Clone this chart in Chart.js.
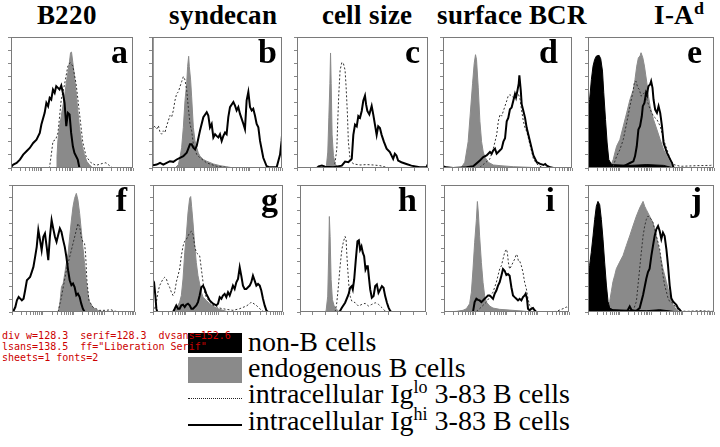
<!DOCTYPE html>
<html>
<head>
<meta charset="utf-8">
<script src="https://cdn.jsdelivr.net/npm/chart.js@4"></script>
<style>
@font-face { font-family:'LSerif'; font-weight:normal; src: local('Liberation Serif'), local('LiberationSerif'); }
@font-face { font-family:'LSerif'; font-weight:bold; src: local('Liberation Serif Bold'), local('LiberationSerif-Bold'); }
body { margin:0; background:#fff; }
canvas { position:absolute; }
.title { position:absolute; top:2px; width:200px; text-align:center; font-weight:bold; font-size:27px; line-height:27px; white-space:nowrap; font-family:'LSerif','Liberation Serif',serif; }
.letter { position:absolute; font-weight:bold; font-size:34px; line-height:34px; font-family:'Liberation Serif'; }
.leg { position:absolute; left:248px; font-size:28px; line-height:28px; white-space:nowrap; font-family:'Liberation Serif'; }
.box { position:absolute; left:188px; width:54px; }
.sp { font-size:18px; position:relative; top:-10px; }
#dbg { position:absolute; left:2px; top:330px; font:10px 'DejaVu Sans Mono'; white-space:pre; color:#c00; }
</style>
</head>
<body>
<div class="title" style="left:-33px">B220</div>
<div class="title" style="left:123px">syndecan</div>
<div class="title" style="left:267px">cell size</div>
<div class="title" style="left:412px">surface BCR</div>
<div class="title" style="left:579px">I-A<span class="sp">d</span></div>

<div class="box" style="top:333px;height:20px;background:#000"></div>
<div class="box" style="top:357px;height:26px;background:#8a8a8a"></div>
<div class="box" style="top:398px;height:0;border-top:1.5px dotted #222"></div>
<div class="box" style="top:424px;height:2px;background:#000"></div>
<div class="leg" id="leg1" style="top:328px">non-B cells</div>
<div class="leg" style="top:354px">endogenous B cells</div>
<div class="leg" style="top:380px">intracellular Ig<span class="sp">lo</span> 3-83 B cells</div>
<div class="leg" style="top:407px">intracellular Ig<span class="sp">hi</span> 3-83 B cells</div>
<div id="dbg"></div>

<script>
// [x % of axis, y % of axis]
var aSolid = [[0,0],[0.5,1.3],[1.9,2.6],[4.6,3.8],[7.3,6.4],[10,10.2],[12.7,12.8],[15.4,15.3],[18.2,19.1],[20.9,21.7],[23.6,26.8],[24.9,33.2],[27.6,42.1],[29,49.7],[30.4,47.2],[31.7,53.6],[33,52.3],[34.4,59.9],[35.8,57.4],[37.1,62.5],[38.5,61.2],[39.8,59.9],[41.2,63],[42.5,57.4],[43.9,49.7],[45.3,31.9],[46.6,42.1],[48,40.8],[49.3,26.8],[50.7,16.6],[52,11.5],[54.7,6.4],[56.1,0]];
var aGray = [[37.1,0],[37.7,8.9],[38.5,21.7],[39.8,31.9],[41.2,39.5],[42.5,47.2],[43.9,54.8],[45.3,65],[46.6,72.7],[48,81.6],[48.8,88],[49.6,88.5],[50.7,80.4],[52,70.2],[53.4,57.4],[54.7,44.6],[56.1,31.9],[57.5,21.7],[58.8,15.3],[60.2,10.2],[62.1,5.1],[64.2,2.6],[66.9,0]];
var aDotted = [[30.4,0],[31.7,1.3],[33,10],[34.4,20.4],[36.6,21.7],[38.5,26.8],[41.2,52.3],[43.9,63.8],[46.6,77.8],[48.5,80.4],[50.7,77.8],[53.4,64],[56.1,42],[58.8,20],[61.5,9],[65.6,4],[69.6,2],[75.1,3.5],[77.8,4],[80.5,2],[83.2,0]];

var bSolid = [[0,100],[0.3,2],[3.6,2.6],[6.2,3.9],[8.7,2.6],[11.3,3.9],[13.8,5.2],[16.4,4.7],[19,6.5],[21.5,7.8],[24.1,9],[26.7,11.6],[29.2,18.1],[30.5,18.1],[31.8,15.5],[33.1,14.2],[34.4,16.8],[36.9,28.4],[39.5,38.8],[42.1,42.6],[43.3,40.1],[44.6,31],[45.9,33.6],[47.2,23.3],[48.5,25.8],[49.7,24.5],[51,23.3],[52.3,25.8],[53.6,20.7],[54.9,24.5],[56.2,27.1],[57.4,25.8],[58.7,38.8],[60,46.5],[62.6,50.4],[63.8,47.8],[65.1,43.9],[66.4,46.5],[67.7,41.3],[69,37.5],[70.3,33.6],[71.5,29.7],[72.8,51.7],[74.1,58.1],[75.4,46.5],[76.7,43.9],[77.9,45.2],[79.2,40.1],[80.5,33.6],[81.8,31],[83.1,20.7],[85.6,7.8],[88.2,1.3],[90.8,0.5],[95.9,0.5],[98.5,10.3],[99.7,20.7],[100,25]];
var bGray = [[17.7,0],[20.3,2.6],[21.5,7.8],[22.8,15.5],[24.1,31],[25.4,51.7],[26.7,64.6],[27.4,77.5],[28.2,85.3],[28.7,77.5],[29.7,67.2],[30.5,54.3],[31.8,31],[33.1,20.7],[34.4,15.5],[35.6,11.6],[36.9,9],[39.5,6.5],[42.1,5.2],[47.2,3.1],[52.3,1.8],[60,0.5],[62.6,0]];
var bDotted = [[0,30],[1.5,32.3],[3.6,29.7],[4.9,32.3],[6.2,27.1],[7.4,25.8],[8.7,28.4],[10,27.1],[11.3,32.3],[12.6,36.2],[13.8,40.1],[15.1,38.8],[16.4,43.9],[17.7,51.7],[19,56.8],[20.3,58.1],[21.5,62],[22.8,65.9],[24.1,69.8],[25.4,67.2],[26.7,59.4],[27.9,46.5],[29.2,33.6],[30.5,28.4],[31.8,18.1],[34.4,10.3],[36.9,7.8],[42.1,3.9],[49.7,1.3],[62.6,0]];

var cSolid = [[13,0],[15.2,0],[16.5,1.3],[19,1.8],[21.5,1],[27.8,0.5],[34.2,1.8],[36.7,4.9],[39.2,4.4],[40.5,5.7],[41.8,7],[43,25.3],[44.3,33.1],[45.6,31.8],[46.8,39.6],[48.1,38.3],[49.4,43.5],[50.6,51.3],[51.9,55.2],[52.7,48.7],[53.7,43.5],[55.2,40.9],[57,47.4],[58.2,40.9],[59.5,33.1],[60.8,25.3],[62,31.8],[63.3,30.5],[64.6,25.3],[66.3,20.1],[68.4,14.8],[70.9,12.2],[73.4,7],[74.7,10.9],[75.9,9.6],[77.2,5.7],[79.7,4.4],[83.5,3.1],[87.3,1.8],[93.7,0.5],[98.7,0.5],[100,3.1]];
var cGray = [[22.3,0],[23.5,12.2],[24.3,38.3],[25.1,64.3],[25.6,87.8],[26.1,64.3],[26.8,25.3],[27.8,9.6],[29.1,3.1],[31.6,0.5],[33,0]];
var cDotted = [[28,0],[29.1,4.4],[30.4,14.8],[31.1,35.7],[31.9,56.5],[32.9,74.7],[34.2,80.5],[35.4,79.9],[36.7,74.7],[37.5,61.7],[38.5,40.9],[39.2,20.1],[40.5,7],[43,3.1],[48.1,2.3],[53.2,2.6],[58.2,2.3],[63.3,1.8],[68.4,0.5],[73.4,0]];

var dSolid = [[0,1.3],[2.6,0.5],[7.8,0],[18.2,0.5],[23.4,1.3],[28.6,5.7],[31.2,8.3],[33.8,9.6],[36.4,12.2],[37.7,10.9],[39,13.5],[40.3,14.8],[41.6,10.9],[44.2,13.5],[45.5,14.8],[46.8,20.1],[48.1,22.7],[49.4,35.7],[50.6,38.3],[51.9,44.8],[53.2,46.1],[54.5,51.3],[55.8,56.5],[56.6,53.9],[57.7,59.1],[58.7,64.3],[59.2,70.8],[60.3,59.1],[61,48.7],[62.3,43.5],[63.6,38.3],[64.9,30.5],[66.2,25.3],[67.5,20.1],[68.8,14.8],[70.1,9.6],[72.7,4.4],[75.3,3.1],[77.9,2.3],[79.2,3.1],[80.5,1.8],[83.1,0.5],[85.7,0]];
var dGray = [[12,0],[14.3,0.5],[16.9,4.4],[19.5,20.1],[21.3,43.5],[22.9,64.3],[24.2,79.9],[25.2,86.5],[26,82.6],[27.3,61.7],[28.6,35.7],[29.9,20.1],[31.2,12.2],[32.5,8.3],[35.1,4.4],[39,2.3],[44.2,1.8],[54.5,1],[67.5,0.5],[75.3,0]];
var dDotted = [[28.6,0.5],[36.4,7],[39,14.8],[41.6,25.3],[42.9,35.7],[44.2,40.9],[45.5,39.6],[46.8,43.5],[49.4,51.3],[50.6,55.2],[51.9,56],[54.5,53.9],[57.1,56.5],[58.4,56.5],[59.7,52.6],[61,43.5],[62.3,35.7],[63.6,30.5],[64.9,27.9],[66.2,22.7],[67.5,17.4],[68.8,12.2],[70.1,7],[72.7,3.1],[75.3,1.3],[77.9,0]];

var eBlack = [[0,42.1],[1.3,52.3],[2.7,67.6],[4,77.8],[5.3,82.9],[6.7,85.5],[8.8,86],[10.1,83.4],[11.5,74],[12.5,57.4],[13.9,37],[15.2,19.1],[16.5,6.4],[18.7,2.6],[33.3,2],[46.7,2.6],[60,2],[68,0]];
var eSolid = [[28,1.3],[30.7,2.6],[33.3,3.8],[36,5.1],[37.3,8.9],[38.7,16.6],[40,29.3],[41.3,31.9],[42.7,39.5],[43.5,47.2],[44.8,49.7],[46.1,57.4],[46.7,56.1],[48,62.5],[49.3,63.8],[50.1,66.3],[51.2,61.2],[52,52.3],[53.3,44.6],[54.7,42.1],[56,47.2],[57.3,42.1],[58.7,31.9],[60,19.1],[62.7,11.5],[65.3,6.4],[66.7,3.8],[68,0]];
var eGray = [[17.3,0],[20,6.4],[21.3,11.5],[22.7,16.6],[25.3,21.7],[28,31.9],[30.7,42.1],[33.3,52.3],[36,59.9],[37.3,67.6],[38.7,77.8],[40,84.2],[41.3,85.5],[42.1,88],[43.5,84.2],[44.8,77.8],[46.7,65],[48,54.8],[49.3,47.2],[52,37],[54.7,29.3],[57.3,21.7],[60,14],[62.7,8.9],[65.3,3.8],[68,0]];
var eDotted = [[20,1.3],[22.7,8.9],[25.3,14],[28,21.7],[30.7,34.4],[33.3,47.2],[35.5,57.4],[36.8,65],[38.1,66.3],[39.5,61.2],[40.8,59.9],[42.1,54.8],[43.5,56.1],[44.8,57.4],[46.7,52.3],[49.3,44.6],[52,39.5],[54.7,37],[57.3,31.9],[60,21.7],[62.7,14],[65.3,6.4],[68,2.6],[73.3,1.3],[86.7,1.8],[97.3,2],[100,2.6]];

var fSolid = [[0.8,0],[2.7,3.9],[4,9.2],[5.4,11.8],[6.7,10.5],[8,9.2],[9.4,10.5],[10.7,17.1],[12.1,25],[13.4,26.3],[14.7,27.6],[16.1,31.6],[17.4,35.5],[18.8,43.4],[20.1,51.3],[21.4,64.5],[22.8,56.6],[24.1,48.7],[25.5,59.2],[26.8,61.8],[28.2,51.3],[29.5,40.8],[30.8,59.2],[32.2,72.4],[33.5,65.8],[34.9,59.2],[36.2,55.3],[37.5,60.5],[38.9,65.8],[40.2,63.2],[41.6,56.6],[42.9,51.3],[44.2,43.4],[45.6,32.9],[46.9,25],[48.3,21.1],[49.6,22.4],[50.9,19.7],[52.3,13.2],[53.6,14.5],[55,11.8],[56.3,6.6],[57.6,2.6],[59,0]];
var fGray = [[37.5,0],[38.9,6.6],[40.2,19.7],[41.6,22.4],[42.9,30.3],[44.2,38.2],[45.6,46.1],[46.9,59.2],[48.3,72.4],[49.6,82.9],[50.9,89.5],[52.3,93.4],[53.6,88.2],[55,77.6],[56.3,64.5],[57.6,51.3],[59,38.2],[60.3,25],[61.7,14.5],[63,7.9],[65.7,3.9],[68.4,1.8],[71,0.8],[76.4,0]];
var fDotted = [[37.5,0],[40.2,11.8],[44.2,32.9],[46.9,43.4],[49.6,53.9],[52.3,64.5],[53.6,69.7],[55,67.1],[56.3,59.2],[57.6,55.3],[59,53.9],[59.8,46.1],[60.9,25],[62.5,9.2],[65.7,3.9],[71,1.3],[76.4,1.3],[80.4,1.8],[83.1,0.8],[87.1,0]];

var gSolid = [[0,24.7],[0.8,23.4],[1.8,13],[2.6,2.6],[3.3,0],[15.4,0],[16.7,2.6],[17.9,5.2],[19.2,2.6],[20.5,2.6],[21.8,5.2],[23.1,5.7],[24.4,3.9],[25.6,5.7],[26.9,6.5],[28.2,5.2],[29.5,2.6],[30.8,2.6],[33.3,5.2],[34.6,7.8],[35.9,13],[37.2,19.5],[38.5,20.8],[39.7,18.2],[41,14.3],[42.3,11.7],[43.6,9.1],[46.2,6.5],[48.7,5.2],[50,6.5],[51.3,11.7],[52.6,10.4],[53.8,13],[55.1,14.3],[56.4,11.7],[57.7,15.6],[59,13],[60.3,16.9],[61.5,20.8],[62.8,18.2],[64.1,23.4],[65.4,26],[66.7,35.1],[67.9,28.6],[69.2,20.8],[70.5,18.2],[71.8,18.2],[73.1,19.5],[74.4,20.8],[75.6,23.4],[76.9,28.6],[78.2,24.7],[79.5,20.8],[80.8,22.1],[82.1,20.8],[83.3,16.9],[84.6,10.4],[85.9,5.2],[87.2,1.3],[88.5,0]];
var gGray = [[15.4,0],[17.9,2.6],[20.5,7.8],[21.8,13],[23.1,26],[24.4,46.8],[25.6,59.7],[26.9,77.9],[28.2,89.6],[29,90.9],[29.7,83.1],[30.8,70.1],[32.1,51.9],[33.3,39],[34.6,28.6],[35.9,22.1],[37.2,15.6],[38.5,11.7],[41,9.1],[43.6,6.5],[46.2,4.7],[48.7,3.1],[51.3,2.1],[56.4,0.5],[61.5,0]];
var gDotted = [[1.3,2.6],[2.6,7.8],[3.8,15.6],[5.1,20.8],[6.4,23.4],[7.7,26],[9,27.3],[10.3,26],[11.5,22.1],[12.8,19.5],[14.1,15.6],[15.4,13],[16.7,15.6],[17.9,23.4],[19.2,28.6],[20.5,33.8],[21.8,44.2],[23.1,51.9],[24.4,55.8],[25.6,57.1],[26.9,59.7],[28.2,62.3],[29.5,63.6],[30.8,61],[32.1,51.9],[33.3,46.8],[34.6,45.5],[35.9,44.2],[37.2,33.8],[38.5,23.4],[39.7,15.6],[41,11.7],[43.6,7.8],[46.2,5.2],[51.3,3.1],[56.4,2.1],[61.5,1.3],[66.7,2.6],[71.8,4.7],[74.4,6.5],[75.6,7.8],[76.9,7],[79.5,5.2],[82.1,2.6],[84.6,0.5],[87.2,0]];

var hSolid = [[31.3,0],[33.2,3.4],[35.8,7.3],[38.5,13.8],[39.8,19.1],[41.1,20.4],[41.9,17.8],[43,25.6],[44.3,41.3],[45.6,55.6],[46.7,56.4],[47.7,49.1],[48.8,51.7],[49.9,46.5],[50.9,43.9],[52,33.4],[53.1,36],[53.8,36],[54.6,28.2],[55.7,17.8],[57,11.2],[58.4,12.5],[59.7,20.4],[61,21.7],[62.3,15.1],[63.7,17.8],[65,20.4],[66.3,19.1],[67.6,12.5],[69,7.3],[70.3,3.4],[71.6,0.8],[72.9,0]];
var hGray = [[19.5,0],[20.7,0.8],[22,12.5],[22.8,46.5],[23.3,75.2],[23.9,59.5],[24.7,25.6],[25.7,9.9],[27.1,4.7],[28.6,2.6],[30.5,0.8],[31.8,0]];
var hDotted = [[27.9,0],[29.2,7.3],[30.5,20.4],[31.8,36],[33.2,49.1],[34.5,55.6],[35.8,59.5],[36.6,56.9],[37.1,46.5],[37.9,33.4],[39,17.8],[39.8,12.5],[41.1,8.6],[43.8,7.3],[46.4,4.7],[49.1,6],[51.7,6.8],[54.4,4.7],[57,6],[59.7,7.3],[62.3,6],[65,3.4],[67.6,0.8],[70.3,0]];

var iSolid = [[23.2,0],[24.5,7.8],[25.9,10.4],[27.2,9.6],[28.5,9.1],[29.9,7.8],[31.2,9.1],[32.5,10.4],[33.9,11.7],[35.2,13],[36.5,13],[37.9,11.7],[39.2,10.4],[40.5,14.3],[41.9,16.9],[43.2,20.8],[44.5,23.4],[45.9,28.6],[47.2,33.8],[48.5,32.5],[49.9,29.1],[51.2,29.9],[52.5,28.6],[53.9,19.5],[55.2,13],[56.5,11.7],[57.9,10.4],[59.2,9.1],[60.5,10.4],[61.9,9.1],[63.2,11.7],[64.5,13],[65.3,14.3],[66.4,10.4],[67.2,2.6],[68.5,1.3],[69.9,2.6],[71.2,3.1],[72.5,1.3],[73.9,0]];
var iGray = [[0,0],[9.9,0.5],[15.2,1.3],[17.9,2.6],[20.5,6.5],[21.9,15.6],[23.2,33.8],[24.5,54.5],[25.9,72.7],[26.7,87],[27.5,77.9],[28.5,59.7],[29.9,39],[31.2,23.4],[32.5,13],[33.9,7.8],[36.5,4.7],[39.2,3.1],[44.5,2.1],[55.2,1.3],[65.9,0.5],[73.9,0]];
var iDotted = [[25.9,0.5],[28.5,2.6],[31.2,5.2],[33.9,7.8],[36.5,11.7],[39.2,15.6],[41.9,23.4],[43.2,28.6],[44.5,33.8],[45.9,36.4],[47.2,41.6],[48.5,46.8],[49.9,49.4],[50.7,46.8],[51.5,39],[52.5,33.8],[53.9,36.4],[55.2,39],[56.5,41.6],[57.9,45.5],[58.7,44.2],[59.5,40.3],[60.5,40.3],[61.9,36.4],[63.2,31.2],[64.5,23.4],[65.9,18.2],[67.2,10.4],[68.5,5.2],[71.2,2.6],[73.9,0.5],[81.9,0],[89.9,0.5],[95.2,2.6],[97.9,3.9],[100,3.1]];

var jBlack = [[0,30.2],[1.3,36.7],[2.6,47],[4,59.9],[5.3,72.9],[6.6,83.2],[7.9,87.1],[9.3,84.5],[10.6,72.9],[11.9,57.4],[13.2,39.3],[14.6,21.2],[15.9,8.3],[17.2,3.1],[19.8,1.8],[33.1,1.3],[46.3,1],[56.9,1.8],[67.5,0.5],[72.8,0]];
var jSolid = [[30.4,0],[31.7,1.8],[33.1,4.4],[34.4,1.8],[35.7,1],[38.4,1],[41,3.1],[43.7,13.4],[46.3,26.4],[47.6,31.5],[48.9,34.1],[50.3,44.4],[51.6,52.2],[52.9,59.9],[54.2,65.1],[55.6,67.7],[56.9,63.8],[58.2,57.4],[59.5,62.5],[60.8,59.9],[62.2,49.6],[63.5,36.7],[64.8,21.2],[66.1,10.9],[67.5,8.3],[68.8,7],[70.1,5.7],[71.4,3.1],[72.8,1.8],[74.1,0]];
var jGray = [[15.9,0],[17.2,8.3],[18.5,16],[19.8,23.8],[21.2,28.9],[22.5,34.1],[25.1,39.3],[27.8,44.4],[30.4,52.2],[33.1,59.9],[35.7,67.7],[38.4,75.5],[41,81.9],[42.3,84.5],[43.7,87.1],[45,83.2],[46.3,80.6],[48.9,75.5],[51.6,70.3],[54.2,59.9],[56.9,47],[59.5,34.1],[62.2,23.8],[64.8,13.4],[67.5,5.7],[70.1,1.8],[72.8,0]];
var jDotted = [[35.7,0.5],[38.4,8.3],[39.7,21.2],[41,34.1],[42.3,47],[43.7,59.9],[45,67.7],[46.3,72.9],[47.6,75.5],[48.9,74.2],[50.3,72.9],[51.6,70.3],[52.9,65.1],[54.2,59.9],[55.6,54.8],[56.9,49.6],[58.2,39.3],[59.5,28.9],[60.8,21.2],[62.2,16],[63.5,10.9],[64.8,8.3],[67.5,7],[70.1,3.1],[72.8,1],[78,0.5],[88.6,1],[99.2,0.5]];

// panel boxes on the page
var panels = [
    {id:'a', left:11,  top:37,  w:122, h:131, log:true,  solid:aSolid, dotted:aDotted, gray:aGray, black:null, mr:5},
    {id:'b', left:152, top:37,  w:130, h:131, log:true,  solid:bSolid, dotted:bDotted, gray:bGray, black:null, mr:5},
    {id:'c', left:297, top:37,  w:131, h:131, log:false, solid:cSolid, dotted:cDotted, gray:cGray, black:null, mr:8},
    {id:'d', left:443, top:37,  w:129, h:131, log:true,  solid:dSolid, dotted:dDotted, gray:dGray, black:null, mr:14},
    {id:'e', left:588, top:37,  w:126, h:131, log:true,  solid:eSolid, dotted:eDotted, gray:eGray, black:eBlack, mr:12},
    {id:'f', left:12,  top:185, w:123, h:127, log:true,  solid:fSolid, dotted:fDotted, gray:fGray, black:null, mr:8},
    {id:'g', left:153, top:185, w:130, h:127, log:true,  solid:gSolid, dotted:gDotted, gray:gGray, black:null, mr:5},
    {id:'h', left:300, top:185, w:126, h:127, log:false, solid:hSolid, dotted:hDotted, gray:hGray, black:null, mr:9},
    {id:'i', left:444, top:185, w:125, h:127, log:true,  solid:iSolid, dotted:iDotted, gray:iGray, black:null, mr:14},
    {id:'j', left:588, top:185, w:126, h:127, log:true,  solid:jSolid, dotted:jDotted, gray:jGray, black:jBlack, mr:12}
];

var logTicks = [];
for (var dec = 0; dec < 4; dec++) {
    for (var k = 1; k < 10; k++) logTicks.push(25 * dec + 25 * Math.log10(k));
}
logTicks.push(100);
var linTicks = [0,10,20,30,40,50,60,70,80,90,100];

function pts(arr) {
    return arr.map(function (d) { return {x: d[0], y: d[1]}; });
}

var framePlugin = {
    id: 'frame',
    afterDatasetsDraw: function (chart) {
        var a = chart.chartArea, c = chart.ctx;
        c.save();
        c.strokeStyle = '#7a7a7a';
        c.lineWidth = 1;
        c.strokeRect(a.left + 0.5, a.top + 0.5, a.right - a.left - 1, a.bottom - a.top - 1);
        c.restore();
    }
};

// debug: measured widths of the legend line vs canvas widths in two fonts
var mc = document.createElement('canvas').getContext('2d');
var msg = 'div w=' + document.getElementById('leg1').getBoundingClientRect().width.toFixed(1);
mc.font = "28px 'Liberation Serif'"; msg += '  serif=' + mc.measureText('non-B cells').width.toFixed(1);
mc.font = "28px 'DejaVu Sans'"; msg += '  dvsans=' + mc.measureText('non-B cells').width.toFixed(1);
mc.font = "28px 'Liberation Sans'"; msg += '\nlsans=' + mc.measureText('non-B cells').width.toFixed(1);
msg += '  ff=' + getComputedStyle(document.getElementById('leg1')).fontFamily;
msg += '\nsheets=' + document.styleSheets.length + ' fonts=' + document.fonts.size;
document.getElementById('dbg').textContent = msg;

panels.forEach(function (p) {
    var cv = document.createElement('canvas');
    cv.width = p.w + 5;
    cv.height = p.h + 5;
    cv.style.left = (p.left - 4) + 'px';
    cv.style.top = (p.top - 1) + 'px';
    document.body.appendChild(cv);

    var letter = document.createElement('div');
    letter.className = 'letter';
    letter.textContent = p.id;
    letter.style.left = (p.left + p.w - p.mr - 60) + 'px';
    letter.style.width = '60px';
    letter.style.textAlign = 'right';
    letter.style.top = (p.top - 2) + 'px';
    document.body.appendChild(letter);

    var datasets = [
        {data: pts(p.solid), borderColor: '#000', borderWidth: 2, pointRadius: 0, fill: false, order: 0},
        {data: pts(p.dotted), borderColor: '#333', borderWidth: 1, borderDash: [2, 2], pointRadius: 0, fill: false, order: 1},
        {data: pts(p.gray), borderColor: '#8a8a8a', backgroundColor: '#8a8a8a', borderWidth: 1, pointRadius: 0, fill: 'origin', order: 3}
    ];
    if (p.black) {
        datasets.push({data: pts(p.black), borderColor: '#000', backgroundColor: '#000', borderWidth: 1, pointRadius: 0, fill: 'origin', order: 2});
    }

    var gridOpts = {drawOnChartArea: false, drawTicks: true, tickLength: 3, color: '#888', lineWidth: 1};

    new Chart(cv.getContext('2d'), {
        type: 'line',
        data: {datasets: datasets},
        options: {
            responsive: false,
            animation: false,
            events: [],
            layout: {padding: {top: 1, right: 1, left: 0, bottom: 0}},
            plugins: {legend: {display: false}, tooltip: {enabled: false}},
            elements: {line: {tension: 0}},
            scales: {
                x: {
                    type: 'linear', min: 0, max: 100,
                    border: {display: false},
                    grid: gridOpts,
                    ticks: {display: false},
                    afterBuildTicks: function (s) {
                        s.ticks = (p.log ? logTicks : linTicks).map(function (v) { return {value: v}; });
                    },
                    afterFit: function (s) { s.height = 4; }
                },
                y: {
                    type: 'linear', min: 0, max: 100,
                    border: {display: false},
                    grid: gridOpts,
                    ticks: {display: false, stepSize: 10},
                    afterFit: function (s) { s.width = 4; }
                }
            }
        },
        plugins: [framePlugin]
    });
});
</script>
</body>
</html>
